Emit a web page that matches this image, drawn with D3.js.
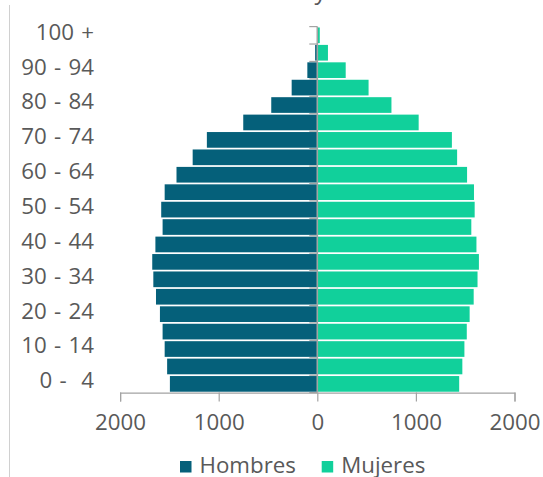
<!DOCTYPE html>
<html>
<head>
<meta charset="utf-8">
<script src="https://cdn.jsdelivr.net/npm/d3@7"></script>
<style>
  html, body { margin: 0; padding: 0; background: #ffffff; }
  svg { display: block; }
  text { font-family: "Open Sans", "Noto Sans", sans-serif; fill: #595959; }
</style>
</head>
<body>
<svg id="chart" width="543" height="477"></svg>
<script>
// Age groups, bottom to top
const ageGroups = ["0 -  4", "5 -  9", "10 - 14", "15 - 19", "20 - 24", "25 - 29",
  "30 - 34", "35 - 39", "40 - 44", "45 - 49", "50 - 54", "55 - 59", "60 - 64",
  "65 - 69", "70 - 74", "75 - 79", "80 - 84", "85 - 89", "90 - 94", "95 - 99", "100 +"];

// Population per age group
const hombres = [1495, 1523, 1548, 1569, 1596, 1636, 1663, 1674, 1642, 1569, 1583,
  1548, 1428, 1264, 1120, 751, 467, 260, 101, 22, 3];
const mujeres = [1439, 1471, 1492, 1516, 1545, 1586, 1625, 1639, 1614, 1562, 1596,
  1589, 1519, 1418, 1365, 1028, 752, 520, 288, 108, 25];

const xTicks = [-2000, -1000, 0, 1000, 2000];
const seriesNames = ["Hombres", "Mujeres"];
const colors = { Hombres: "#05607a", Mujeres: "#11d09b" };
const titleText = "Edad y sexo";

const svg = d3.select("#chart");
const axisColor = "#a3a3a3";
const fontSize = 22.3;

// Frame line on the left
svg.append("line")
  .attr("x1", 9.5).attr("x2", 9.5).attr("y1", 5).attr("y2", 477)
  .attr("stroke", "#d0d0d0").attr("stroke-width", 1);

// Title, mostly above the visible area
const title = svg.append("text")
  .attr("y", -1)
  .style("font-size", "24px")
  .text(titleText);
{
  const node = title.node();
  const idx = titleText.indexOf("y");
  const pre = node.getSubStringLength(0, idx);
  const w = node.getSubStringLength(idx, 1);
  title.attr("x", 320.5 - pre - w / 2);
}

const x = d3.scaleLinear().domain([-2000, 2000]).range([120.1, 514.5]);
const plotTop = 26.6, plotBottom = 392.6;
const y = d3.scaleBand().domain(ageGroups).range([plotBottom, plotTop])
  .paddingInner(0.1).paddingOuter(0.05);

const rows = ageGroups.map((g, i) => ({ g, h: hombres[i], m: mujeres[i] }));

// Bars
const bars = svg.append("g");
bars.selectAll("rect.h").data(rows).join("rect")
  .attr("class", "h")
  .attr("x", d => x(-d.h))
  .attr("width", d => x(0) - x(-d.h))
  .attr("y", d => y(d.g))
  .attr("height", y.bandwidth())
  .attr("fill", colors.Hombres);
bars.selectAll("rect.m").data(rows).join("rect")
  .attr("class", "m")
  .attr("x", x(0))
  .attr("width", d => x(d.m) - x(0))
  .attr("y", d => y(d.g))
  .attr("height", y.bandwidth())
  .attr("fill", colors.Mujeres);

// Category axis: line at zero with ticks at band boundaries
const boundaries = d3.range(ageGroups.length + 1)
  .map(i => plotTop + (plotBottom - plotTop) * i / ageGroups.length);
const catAxis = svg.append("g");
catAxis.selectAll("line.tick").data(boundaries).join("line")
  .attr("class", "tick")
  .attr("x1", x(0) - 8).attr("x2", x(0))
  .attr("y1", d => d).attr("y2", d => d)
  .attr("stroke", axisColor).attr("stroke-width", 1.2);
catAxis.append("line")
  .attr("x1", x(0)).attr("x2", x(0)).attr("y1", plotTop).attr("y2", plotBottom)
  .attr("stroke", axisColor).attr("stroke-width", 1.6);

// Category labels on the far left, every other group
const yLabels = svg.append("g")
  .attr("transform", "translate(94,0)")
  .call(d3.axisLeft(y)
    .tickValues(ageGroups.filter((g, i) => i % 2 === 0))
    .tickSize(0).tickPadding(0));
yLabels.select(".domain").remove();
yLabels.selectAll("text")
  .attr("dy", "0.2em")
  .attr("xml:space", "preserve")
  .style("white-space", "pre")
  .style("word-spacing", "1.5px")
  .style("font-size", fontSize + "px")
  .style("font-family", "'Open Sans', sans-serif")
  .attr("fill", "#595959");

// Value axis
const xAxis = svg.append("g")
  .attr("transform", `translate(0,${plotBottom})`)
  .call(d3.axisBottom(x).tickValues(xTicks)
    .tickFormat(d => Math.abs(d))
    .tickSize(9).tickSizeOuter(9).tickPadding(13));
xAxis.select(".domain").attr("stroke", axisColor).attr("stroke-width", 1.2);
xAxis.selectAll(".tick line").attr("stroke", axisColor).attr("stroke-width", 1.2);
xAxis.selectAll("text")
  .style("font-size", fontSize + "px")
  .style("font-family", "'Open Sans', sans-serif")
  .attr("fill", "#595959");

// Legend
const legendPos = { Hombres: 180, Mujeres: 321.7 };
const legend = svg.append("g");
seriesNames.forEach(name => {
  legend.append("rect")
    .attr("x", legendPos[name]).attr("y", 461)
    .attr("width", 11.5).attr("height", 11.5)
    .attr("fill", colors[name]);
  legend.append("text")
    .attr("x", legendPos[name] + 19.5).attr("y", 472.8)
    .style("font-size", fontSize + "px")
    .text(name);
});
</script>
</body>
</html>
